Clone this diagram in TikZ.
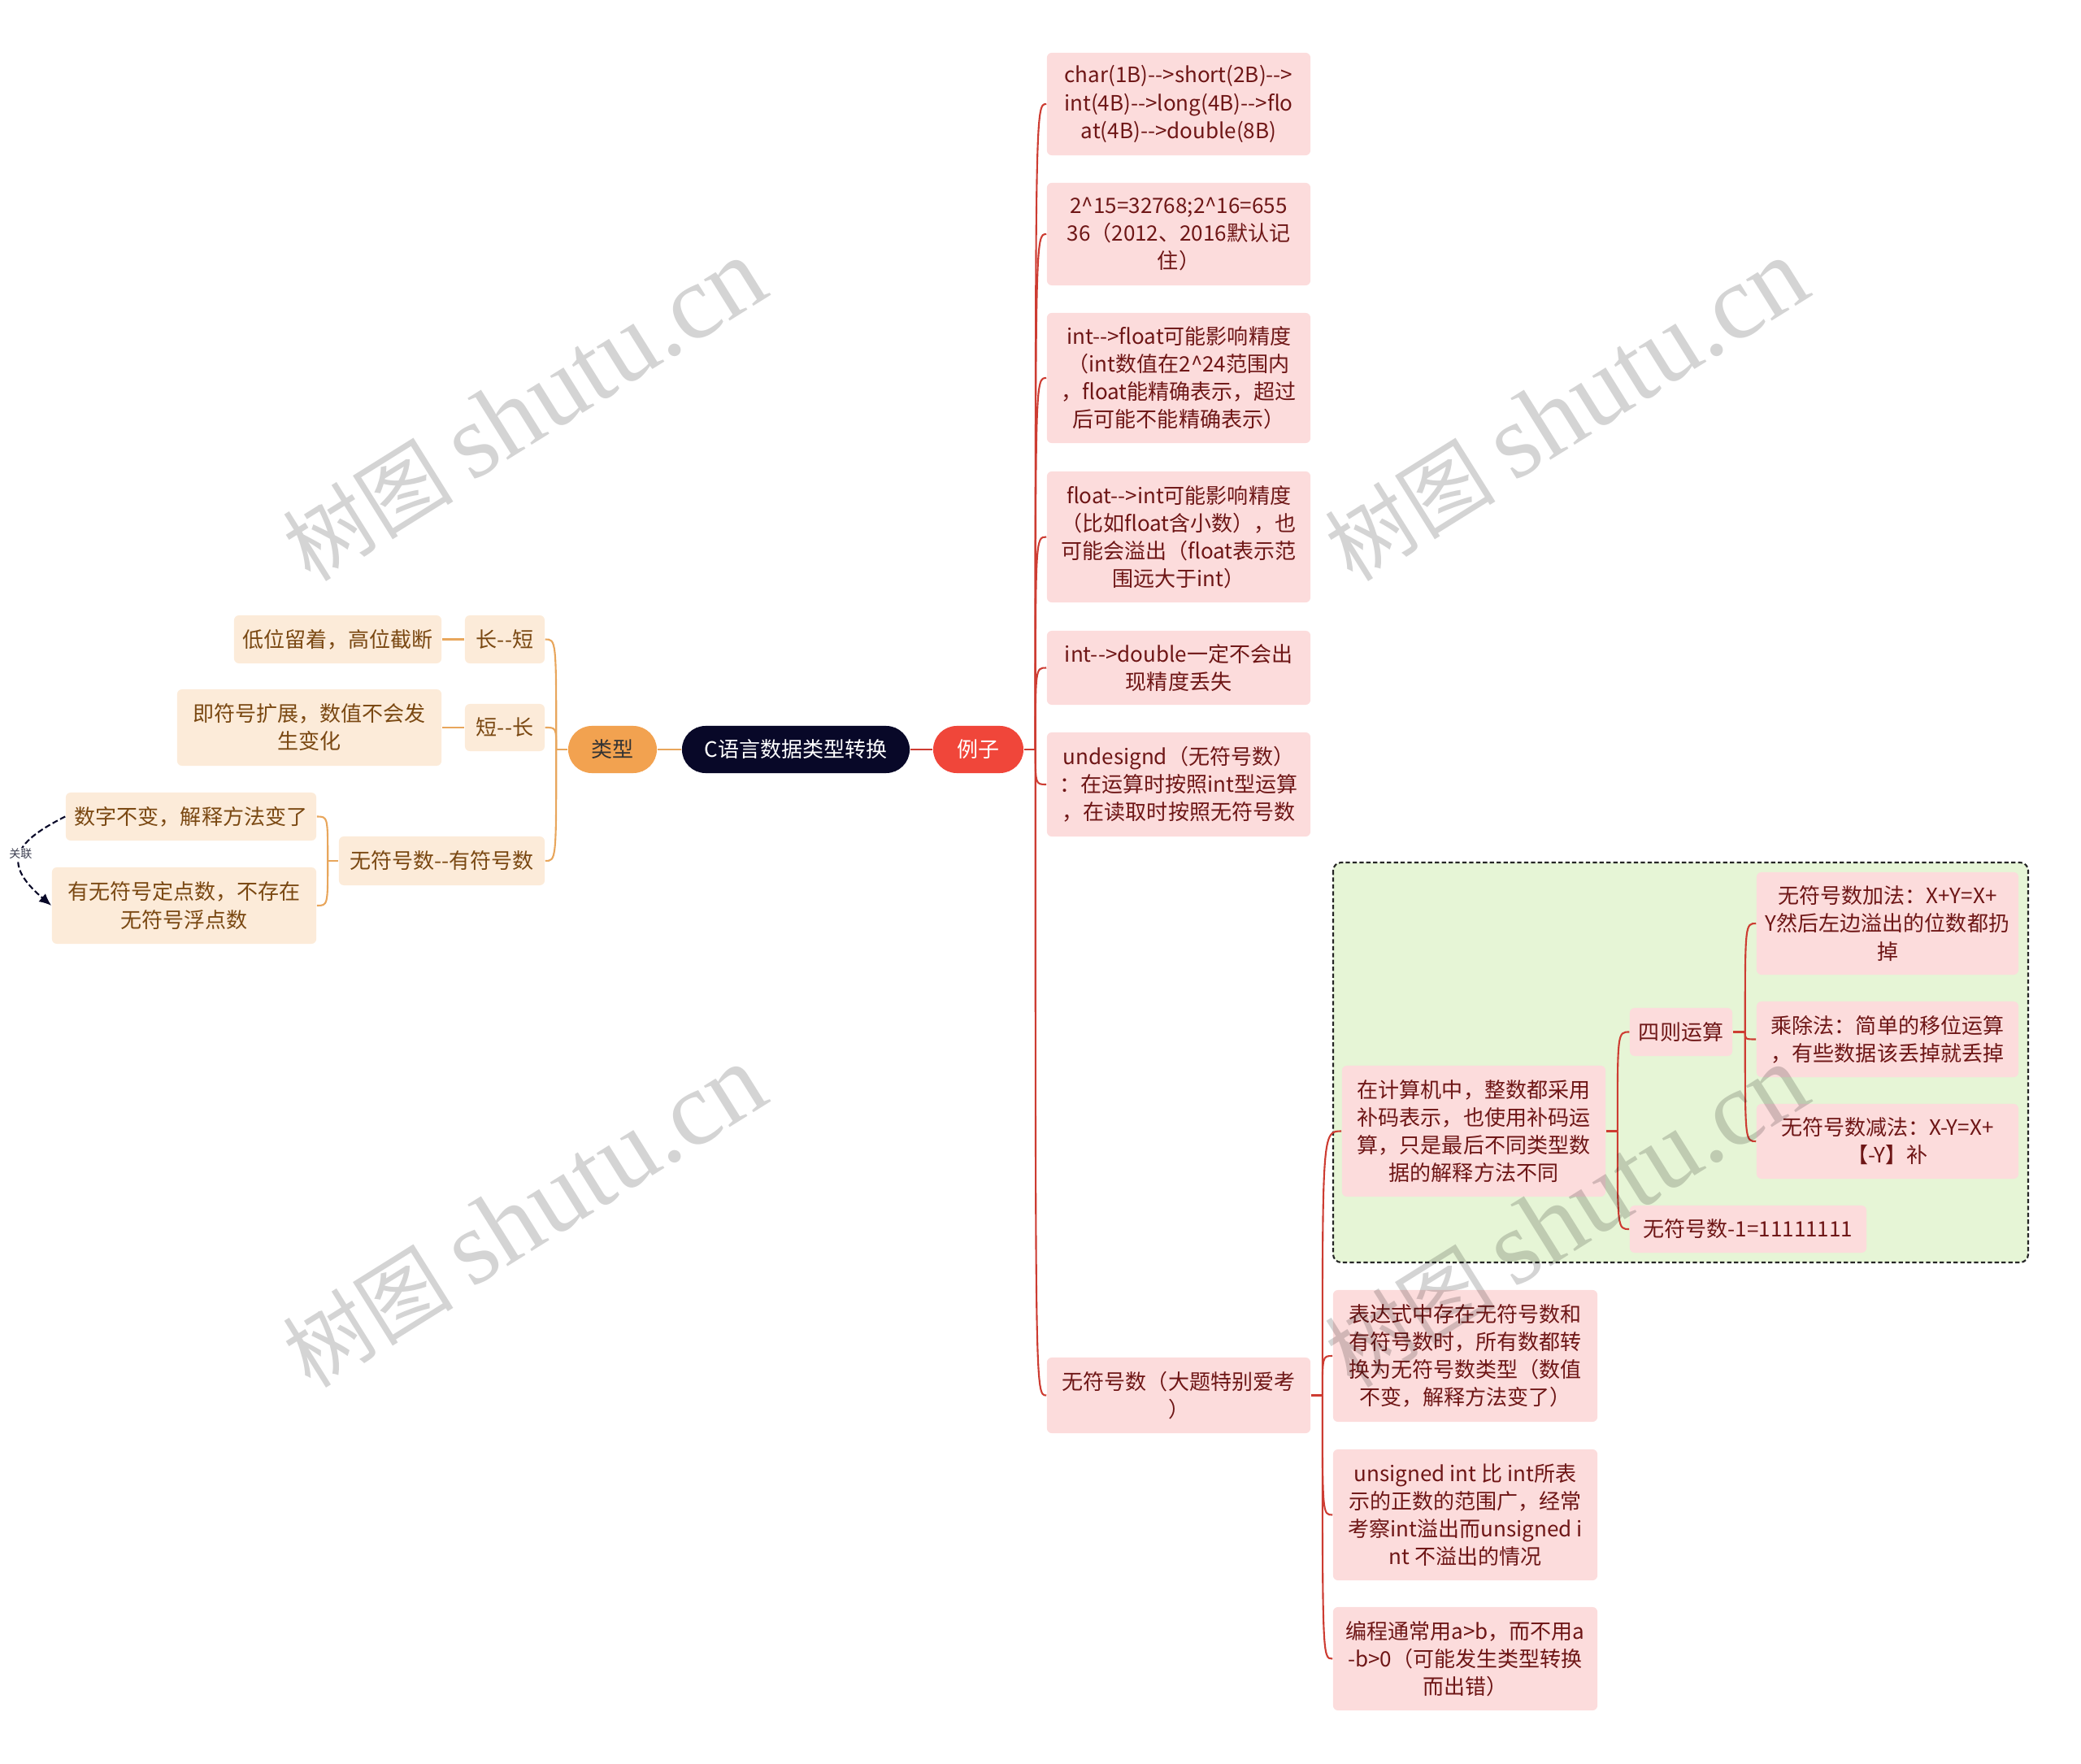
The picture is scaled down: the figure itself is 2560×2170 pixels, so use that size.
\documentclass[tikz,border=0pt]{standalone}
\usepackage{fontspec}
\setmainfont{Noto Sans CJK SC}[Ligatures=TeXOff]
\newfontfamily\wmserif{Liberation Serif}
\usepackage{xcolor}
\definecolor{tpnavy}{RGB}{8,8,40}
\definecolor{tpred}{RGB}{240,70,58}
\definecolor{tporange}{RGB}{242,162,80}
\definecolor{tpbeige}{RGB}{252,235,217}
\definecolor{tpbrown}{RGB}{122,72,18}
\definecolor{tpline}{RGB}{232,166,92}
\definecolor{tppink}{RGB}{252,220,220}
\definecolor{tpmaroon}{RGB}{110,22,22}
\definecolor{tpredline}{RGB}{205,60,50}
\definecolor{tpgreen}{RGB}{230,245,214}
\definecolor{tpgray}{RGB}{60,62,80}
\usetikzlibrary{arrows.meta, calc}

\begin{document}
\begin{tikzpicture}[x=0.01cm, y=-0.01cm,
  font=\fontsize{7.4}{9.7}\selectfont,
  pill/.style={rounded corners=0.29cm, minimum height=0.58cm, inner sep=0pt},
  lbox/.style={fill=tpbeige, text=tpbrown, rounded corners=0.06cm, align=center, inner sep=0pt},
  rbox/.style={fill=tppink, text=tpmaroon, rounded corners=0.06cm, align=center, inner sep=0pt, minimum width=3.24cm},
  lline/.style={draw=tpline, line width=0.6pt},
  rline/.style={draw=tpredline, line width=0.6pt},
  grp/.style={fill=tpgreen, draw=black!85, line width=0.6pt, dash pattern=on 1.5pt off 0.9pt, rounded corners=0.1cm},
  rel/.style={draw=tpnavy, line width=0.6pt, dash pattern=on 2pt off 1pt, -{Latex[length=1.5mm, width=1.3mm]}},
  rellbl/.style={font=\fontsize{4}{4}\selectfont, text=tpgray, fill=white, inner sep=0.4pt},
  wmark/.style={rotate=32, text=black, text opacity=0.17, inner sep=0pt}]
\useasboundingbox (0,0) rectangle (2560,2170);

% group frame
\draw[grp] (1640,1061) rectangle (2495,1553);

% centre
\node[pill, fill=tpnavy, text=white, minimum width=2.80cm] (root) at (979,922) {C语言数据类型转换};
\node[pill, fill=tporange, text=black!80, minimum width=1.09cm] (lei) at (753.5,922) {类型};
\node[pill, fill=tpred, text=white, minimum width=1.11cm] (liz) at (1203.5,922) {例子};

% left side
\node[lbox, minimum width=0.98cm, minimum height=0.59cm] (chd) at (621,786.5) {长--短};
\node[lbox, minimum width=2.55cm, minimum height=0.59cm] (dwl) at (415.5,786.5) {低位留着，高位截断};
\node[lbox, minimum width=0.98cm, minimum height=0.58cm] (dc) at (621,895) {短--长};
\node[lbox, minimum width=3.25cm, minimum height=0.94cm] (jfh) at (380.5,895) {即符号扩展，数值不会发\\生变化};
\node[lbox, minimum width=2.53cm, minimum height=0.60cm] (wfy) at (543.5,1059) {无符号数--有符号数};
\node[lbox, minimum width=3.08cm, minimum height=0.59cm] (szb) at (235,1004.5) {数字不变，解释方法变了};
\node[lbox, minimum width=3.25cm, minimum height=0.94cm] (ywf) at (226.5,1114) {有无符号定点数，不存在\\无符号浮点数};

% right side
\node[rbox, minimum height=1.26cm] (n1) at (1450,128) {char(1B)-->short(2B)-->\\int(4B)-->long(4B)-->flo\\at(4B)-->double(8B)};
\node[rbox, minimum height=1.26cm] (n2) at (1450,288) {2\textasciicircum15=32768;2\textasciicircum16=655\\36（2012、2016默认记\\住）};
\node[rbox, minimum height=1.60cm] (n3) at (1450,465) {int-->float可能影响精度\\（int数值在2\textasciicircum24范围内\\，float能精确表示，超过\\后可能不能精确表示）};
\node[rbox, minimum height=1.61cm] (n4) at (1450,660.5) {float-->int可能影响精度\\（比如float含小数），也\\可能会溢出（float表示范\\围远大于int）};
\node[rbox, minimum height=0.91cm] (n5) at (1450,821.5) {int-->double一定不会出\\现精度丢失};
\node[rbox, minimum height=1.28cm] (n6) at (1450,965) {undesignd（无符号数）\\：在运算时按照int型运算\\，在读取时按照无符号数};
\node[rbox, minimum height=0.93cm] (n7) at (1450,1716.5) {无符号数（大题特别爱考\\）};

\node[rbox, minimum height=1.61cm] (g1) at (1813,1391.5) {在计算机中，整数都采用\\补码表示，也使用补码运\\算，只是最后不同类型数\\据的解释方法不同};
\node[rbox, minimum width=1.26cm, minimum height=0.59cm] (szys) at (2068,1269.5) {四则运算};
\node[rbox, minimum width=3.22cm, minimum height=1.26cm] (jia) at (2322,1136) {无符号数加法：X+Y=X+\\Y然后左边溢出的位数都扔\\掉};
\node[rbox, minimum width=3.22cm, minimum height=0.93cm] (cc) at (2322,1278.5) {乘除法：简单的移位运算\\，有些数据该丢掉就丢掉};
\node[rbox, minimum width=3.22cm, minimum height=0.92cm] (jian) at (2322,1404) {无符号数减法：X-Y=X+\\【-Y】补};
\node[rbox, minimum width=2.91cm, minimum height=0.58cm] (fy) at (2150.5,1512) {无符号数-1=11111111};

\node[rbox, minimum width=3.25cm, minimum height=1.62cm] (b1) at (1802.5,1668) {表达式中存在无符号数和\\有符号数时，所有数都转\\换为无符号数类型（数值\\不变，解释方法变了）};
\node[rbox, minimum width=3.25cm, minimum height=1.61cm] (b2) at (1802.5,1863.5) {unsigned int 比 int所表\\示的正数的范围广，经常\\考察int溢出而unsigned i\\nt 不溢出的情况};
\node[rbox, minimum width=3.25cm, minimum height=1.27cm] (b3) at (1802.5,2040.5) {编程通常用a>b，而不用a\\-b>0（可能发生类型转换\\而出错）};

% junctions
\coordinate (lj) at ($(lei.west)+(-14,0)$);
\coordinate (wj) at ($(wfy.west)+(-13,0)$);
\coordinate (rj) at ($(liz.east)+(14,0)$);
\coordinate (nj) at ($(n7.east)+(14,0)$);
\coordinate (gj) at ($(g1.east)+(14,0)$);
\coordinate (sj) at ($(szys.east)+(15,0)$);

% connectors
\draw[lline] (root.west) -- (lei.east);
\draw[rline] (root.east) -- (liz.west);
\draw[lline] (lei.west) -- (lj);
\foreach \c in {chd,dc,wfy}
  \draw[lline] (lj) .. controls (lj |- \c.east) .. (\c.east);
\draw[lline] (chd.west) -- (dwl.east);
\draw[lline] (dc.west) -- (jfh.east);
\draw[lline] (wfy.west) -- (wj);
\foreach \c in {szb,ywf}
  \draw[lline] (wj) .. controls (wj |- \c.east) .. (\c.east);
\draw[rline] (liz.east) -- (rj);
\foreach \c in {n1,n2,n3,n4,n5,n6,n7}
  \draw[rline] (rj) .. controls (rj |- \c.west) .. (\c.west);
\draw[rline] (n7.east) -- (nj);
\foreach \c in {g1,b1,b2,b3}
  \draw[rline] (nj) .. controls (nj |- \c.west) .. (\c.west);
\draw[rline] (g1.east) -- (gj);
\foreach \c in {szys,fy}
  \draw[rline] (gj) .. controls (gj |- \c.west) .. (\c.west);
\draw[rline] (szys.east) -- (sj);
\foreach \c in {jia,cc,jian}
  \draw[rline] (sj) .. controls (sj |- \c.west) .. (\c.west);

% relation
\draw[rel] (szb.west) .. controls (20,1035) and (0,1060) .. (ywf.west)
  node[pos=0.5, rellbl] (gl) {关联};

% watermark
\foreach \wx/\wy [count=\i] in {645/505, 1927/505, 645/1497, 1927/1497}
  \node[wmark] (wm\i) at (\wx,\wy) {{\fontsize{30}{30}\selectfont 树图}\hspace{0.22cm}{\wmserif\fontsize{37}{37}\selectfont shutu.cn}};
\end{tikzpicture}
\end{document}
